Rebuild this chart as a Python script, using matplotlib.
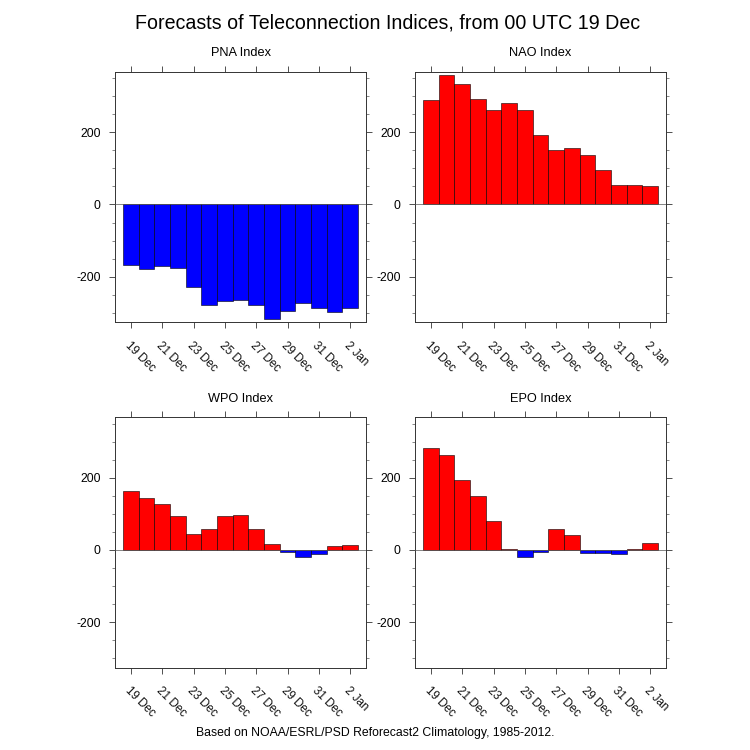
import matplotlib
matplotlib.use("Agg")
import matplotlib.pyplot as plt
from matplotlib.ticker import MultipleLocator

plt.rcParams['font.family'] = ['Liberation Sans', 'DejaVu Sans']
plt.rcParams['axes.unicode_minus'] = False

TITLE = "Forecasts of Teleconnection Indices, from 00 UTC 19 Dec"
FOOTER = "Based on NOAA/ESRL/PSD Reforecast2 Climatology, 1985-2012."

days = list(range(15))
tick_days = [0, 2, 4, 6, 8, 10, 12, 14]
tick_labels = ["19 Dec", "21 Dec", "23 Dec", "25 Dec", "27 Dec", "29 Dec", "31 Dec", "2 Jan"]

pna = [-168, -178, -170, -176, -228, -280, -267, -265, -278, -317, -296, -272, -287, -297, -288]
nao = [291, 360, 334, 292, 262, 281, 261, 194, 150, 156, 136, 95, 55, 54, 52]
wpo = [165, 143, 127, 95, 44, 59, 95, 97, 57, 17, -5, -19, -11, 12, 14]
epo = [284, 263, 194, 151, 81, 2, -20, -5, 59, 42, -9, -9, -12, 4, 19]

W = 750.0
H = 750.0
LINE = "#333333"


def add_panel(fig, left, top, name, values):
    # panel position in pixels from the top left
    ax = fig.add_axes([left / W, 1 - (top + 250.5) / H, 250.5 / W, 250.5 / H])
    colors = ["red" if v > 0 else "blue" for v in values]
    ax.bar(days, values, width=1.0, color=colors, edgecolor="black", linewidth=0.4, zorder=2)
    ax.set_xlim(-1, 15)
    ax.set_ylim(-326, 369)
    ax.axhline(0, color="#555555", linewidth=0.5, zorder=3)
    ax.set_xticks(tick_days)
    ax.set_xticklabels(tick_labels, rotation=-45, ha="left", va="top", rotation_mode="anchor", fontsize=8.4)
    ax.set_yticks([-200, 0, 200])
    ax.yaxis.set_minor_locator(MultipleLocator(50))
    ax.tick_params(axis="both", which="major", direction="out", length=4.5, width=0.6, color=LINE,
                   top=True, right=True, labelsize=8.8, pad=6)
    ax.tick_params(axis="y", which="minor", direction="out", length=2.4, width=0.5, color="#555555", right=True)
    ax.tick_params(axis="x", which="major", pad=8, labelsize=8.4, labelcolor="#111111")
    for spine in ax.spines.values():
        spine.set_linewidth(0.7)
        spine.set_color(LINE)
    ax.set_title(name, fontsize=9.2, pad=11)
    return ax


fig = plt.figure(figsize=(7.5, 7.5), dpi=100)
add_panel(fig, 115.3, 71.5, "PNA Index", pna)
add_panel(fig, 415.3, 71.5, "NAO Index", nao)
add_panel(fig, 115.3, 417, "WPO Index", wpo)
add_panel(fig, 415.3, 417, "EPO Index", epo)
fig.text(388 / W, 1 - 23 / H, TITLE, ha="center", va="center", fontsize=14.1)
fig.text(375 / W, 1 - 733 / H, FOOTER, ha="center", va="center", fontsize=8.8)
fig.savefig("out.png", dpi=100)
